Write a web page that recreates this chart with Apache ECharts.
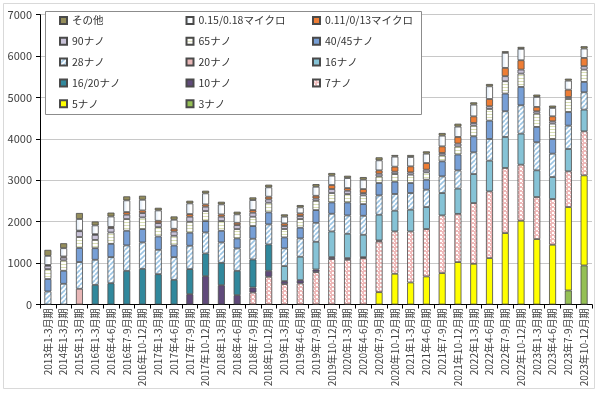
<!DOCTYPE html>
<html><head><meta charset="utf-8">
<script src="https://cdn.jsdelivr.net/npm/echarts@6/dist/echarts.min.js"></script>
<style>html,body{margin:0;padding:0;background:#fff}#c{width:600px;height:393px}</style>
</head><body><div id="c"></div>
<script>
const categories = ['2013年1-3月期','2014年1-3月期','2015年1-3月期',
'2016年1-3月期','2016年4-6月期','2016年7-9月期','2016年10-12月期',
'2017年1-3月期','2017年4-6月期','2017年7-9月期','2017年10-12月期',
'2018年1-3月期','2018年4-6月期','2018年7-9月期','2018年10-12月期',
'2019年1-3月期','2019年4-6月期','2019年7-9月期','2019年10-12月期',
'2020年1-3月期','2020年4-6月期','2020年7-9月期','2020年10-12月期',
'2021年1-3月期','2021年4-6月期','2021年7-9月期','2021年10-12月期',
'2022年1-3月期','2022年4-6月期','2022年7-9月期','2022年10-12月期',
'2023年1-3月期','2023年4-6月期','2023年7-9月期','2023年10-12月期'];

const yTicks = [0,1000,2000,3000,4000,5000,6000,7000];

const s3nm   = [0,0,0,0,0,0,0,0,0,0,0,0,0,0,0,0,0,0,0,0,0,0,0,0,0,0,0,0,0,0,0,0,0,339,943];
const s5nm   = [0,0,0,0,0,0,0,0,0,0,0,0,0,0,0,0,0,0,0,0,0,298,742,532,677,758,1024,983,1120,1725,2023,1580,1443,2015,2176];
const s7nm   = [0,0,0,0,0,0,0,0,0,0,0,0,0,290,669,492,508,782,1096,1080,1120,1225,1024,1233,1145,1394,1165,1467,1612,1572,1354,1016,1104,862,1064];
const s10nm  = [0,0,0,0,0,0,0,0,0,250,685,467,226,121,145,73,81,64,48,40,24,24,0,0,0,0,0,0,0,0,0,0,0,0,0];
const s16_20 = [0,0,0,475,515,814,862,733,596,605,548,540,588,677,637,0,0,0,0,0,0,0,0,0,0,0,0,0,0,0,0,0,0,0,0];
const s16nm  = [0,0,0,0,0,0,0,0,0,0,0,0,0,0,0,363,564,669,621,588,540,621,500,524,532,540,610,701,742,750,750,645,532,540,524];
const s20nm  = [0,0,380,0,0,0,0,0,0,0,0,0,0,0,0,0,0,0,0,0,0,0,0,0,0,0,0,0,0,0,0,0,0,0,0];
const s28nm  = [315,500,645,605,630,613,637,588,548,564,508,492,540,500,484,427,443,459,427,443,459,468,403,403,419,403,440,524,524,621,685,677,564,564,419];
const s40_45 = [300,315,340,280,320,355,322,322,282,314,274,282,242,306,290,266,258,306,274,314,282,298,298,242,242,363,383,387,443,427,443,371,355,330,250];
const s65nm  = [240,250,265,200,275,282,282,226,234,266,242,234,226,226,234,202,210,226,226,202,210,161,185,202,177,145,195,258,282,298,322,322,371,314,298];
const s90nm  = [80,70,140,120,105,105,105,97,105,121,105,105,97,97,81,73,73,56,97,81,56,64,56,56,64,56,70,64,64,121,97,56,56,48,81];
const s011   = [20,25,15,20,30,64,64,56,64,64,56,56,56,64,64,64,64,64,97,64,97,81,121,145,161,161,160,161,177,201,226,105,121,177,201];
const s015   = [220,200,280,210,250,282,258,250,218,258,266,242,202,242,226,161,145,218,226,242,226,242,242,226,226,258,250,282,306,363,274,242,202,218,226];
const sOther = [145,120,145,95,95,97,97,64,80,64,64,64,64,64,64,56,56,64,64,56,64,73,40,48,56,64,70,56,56,40,48,56,56,48,56];

function tile(w,h,draw){const c=document.createElement('canvas');c.width=w;c.height=h;const g=c.getContext('2d');draw(g,w,h);return {image:c,repeat:'repeat'};}
const hatch28 = tile(5,5,(g,w,h)=>{g.fillStyle='#fff';g.fillRect(0,0,w,h);g.strokeStyle='#9cc5e4';g.lineWidth=1.6;
  [[-5,5],[0,5],[5,5]].forEach(([ox])=>{g.beginPath();g.moveTo(ox,h);g.lineTo(ox+w,0);g.stroke();});});
const dots7 = tile(4,4,(g,w,h)=>{g.fillStyle='#efb9b9';g.fillRect(0,0,w,h);g.fillStyle='#ffffff';g.fillRect(0,0,2,2);g.fillRect(2,2,1,1);});
const lines65 = tile(2,3,(g,w,h)=>{g.fillStyle='#fff';g.fillRect(0,0,w,h);g.fillStyle='#d9dfb4';g.fillRect(0,0,w,1);});
const grad015 = {type:'linear',x:0,y:0,x2:1,y2:0,colorStops:[{offset:0,color:'#d6e5f5'},{offset:0.6,color:'#ffffff'},{offset:1,color:'#ffffff'}]};

const seriesDefs = [
  ['3ナノ', s3nm, '#95c055'],
  ['5ナノ', s5nm, '#ffff00'],
  ['7ナノ', s7nm, dots7],
  ['10ナノ', s10nm, '#604a7b'],
  ['16/20ナノ', s16_20, '#31889c'],
  ['16ナノ', s16nm, '#86c3d6'],
  ['20ナノ', s20nm, '#e8b7b7'],
  ['28ナノ', s28nm, hatch28],
  ['40/45ナノ', s40_45, '#779fd6'],
  ['65ナノ', s65nm, lines65],
  ['90ナノ', s90nm, '#c9c3d9'],
  ['0.11/0/13マイクロ', s011, '#ee7d35'],
  ['0.15/0.18マイクロ', s015, grad015],
  ['その他', sOther, '#958e5c']
];

const legendOrder = ['その他','0.15/0.18マイクロ','0.11/0/13マイクロ','90ナノ','65ナノ','40/45ナノ','28ナノ','20ナノ','16ナノ','16/20ナノ','10ナノ','7ナノ','5ナノ','3ナノ'];
const FONT = '"Noto Sans CJK JP", "Noto Sans", sans-serif';

const legends = legendOrder.map((name,k)=>({
  data:[name], orient:'horizontal', padding:0, selectedMode:false,
  left: 59 + (k%3)*126.5, top: 14.5 + Math.floor(k/3)*20.8,
  itemWidth:7, itemHeight:7, icon:'rect', z:10,
  textStyle:{fontFamily:FONT,fontSize:10.5,color:'#333',lineHeight:12}
}));

const series = seriesDefs.map(([name,data,color])=>({
  name, type:'bar', stack:'total', barWidth:7,
  data: data.map(v=> v>0 ? v : null),
  itemStyle:{color, borderColor:'#4a4a4a', borderWidth:0.8},
  emphasis:{disabled:true}, animation:false
}));

const chart = echarts.init(document.getElementById('c'),null,{renderer:'canvas'});
chart.setOption({
  animation:false,
  backgroundColor:'#fff',
  textStyle:{fontFamily:FONT},
  grid:{left:40,right:8,top:14.7,bottom:88.5,containLabel:false},
  legend: legends,
  graphic:[
    {type:'rect',shape:{x:3.5,y:3.5,width:591,height:385},style:{fill:null,stroke:'#d9d9d9',lineWidth:1},z:-1,silent:true},
    {type:'rect',shape:{x:45.5,y:11.5,width:376,height:103},style:{fill:'#fff',stroke:'#8c8c8c',lineWidth:1},z:5,silent:true}
  ],
  xAxis:{type:'category',data:categories,
    axisLine:{lineStyle:{color:'#000',width:1}},
    axisTick:{show:true,length:4,lineStyle:{color:'#000'}},
    axisLabel:{rotate:90,interval:0,fontSize:10,color:'#404040',margin:4,fontFamily:FONT}},
  yAxis:{type:'value',min:yTicks[0],max:yTicks[yTicks.length-1],interval:1000,
    axisLine:{show:true,lineStyle:{color:'#000',width:1}},
    axisTick:{show:true,length:4,lineStyle:{color:'#000'}},
    splitLine:{lineStyle:{color:'#c8c8c8',width:1}},
    axisLabel:{fontSize:11,color:'#404040',margin:8,fontFamily:FONT,formatter:v=>String(v)}},
  series
});
</script></body></html>
